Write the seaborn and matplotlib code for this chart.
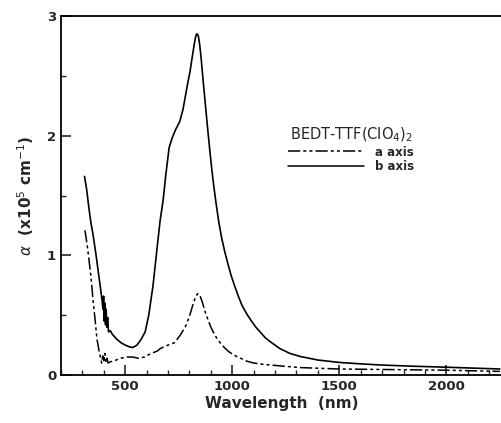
import matplotlib
matplotlib.use('Agg')
import matplotlib.pyplot as plt
from matplotlib.ticker import MultipleLocator
from matplotlib.lines import Line2D
import seaborn as sns
import pandas as pd

sns.set_theme(style='ticks')
plt.rcParams['font.family'] = ['DejaVu Sans']

# b axis (solid)
b_wl = [310, 320, 330, 340, 350, 364, 375, 385, 392, 396, 399, 402, 405, 408, 411,
        414, 418, 422, 430, 440, 460, 480, 500, 520, 536, 555, 575, 593, 610, 630,
        650, 663, 677, 690, 705, 719, 735, 755, 770, 790, 803, 815, 822, 828, 833,
        837, 842, 848, 855, 865, 875, 885, 895, 905, 915, 924, 937, 950, 965, 981,
        995, 1010, 1028, 1046, 1068, 1090, 1110, 1130, 1155, 1180, 1223, 1270, 1317,
        1400, 1500, 1600, 1700, 1850, 2000, 2250]
b_alpha = [1.66, 1.55, 1.40, 1.27, 1.17, 1.00, 0.85, 0.72, 0.62, 0.55, 0.66, 0.45, 0.60,
           0.42, 0.55, 0.40, 0.48, 0.36, 0.37, 0.34, 0.30, 0.27, 0.25, 0.235, 0.23, 0.25,
           0.30, 0.36, 0.50, 0.75, 1.08, 1.29, 1.46, 1.68, 1.90, 1.98, 2.05, 2.12, 2.22,
           2.42, 2.54, 2.68, 2.76, 2.82, 2.85, 2.85, 2.83, 2.76, 2.64, 2.44, 2.25, 2.06,
           1.88, 1.71, 1.56, 1.44, 1.28, 1.15, 1.03, 0.92, 0.83, 0.75, 0.66, 0.58, 0.51,
           0.45, 0.40, 0.36, 0.31, 0.275, 0.22, 0.18, 0.155, 0.125, 0.105, 0.093, 0.083,
           0.073, 0.065, 0.05]

# a axis (dash-dot)
a_wl = [312, 325, 340, 350, 360, 368, 380, 390, 395, 400, 405, 410, 415, 420, 430, 450,
        480, 510, 536, 560, 590, 620, 650, 663, 700, 730, 756, 780, 800, 815, 828, 838,
        848, 860, 873, 887, 900, 911, 927, 943, 960, 980, 1000, 1020, 1045, 1069, 1100,
        1150, 1230, 1317, 1500, 1750, 2000, 2250]
a_alpha = [1.21, 1.05, 0.82, 0.62, 0.45, 0.30, 0.18, 0.10, 0.16, 0.12, 0.18, 0.10, 0.14,
           0.10, 0.11, 0.12, 0.14, 0.15, 0.15, 0.14, 0.15, 0.18, 0.20, 0.22, 0.25, 0.27,
           0.33, 0.40, 0.49, 0.58, 0.65, 0.68, 0.67, 0.61, 0.53, 0.46, 0.40, 0.36, 0.31,
           0.27, 0.235, 0.20, 0.175, 0.155, 0.135, 0.115, 0.10, 0.088, 0.075, 0.062, 0.05,
           0.045, 0.04, 0.03]

df_a = pd.DataFrame({'wl': a_wl, 'alpha': a_alpha})
df_b = pd.DataFrame({'wl': b_wl, 'alpha': b_alpha})

fig = plt.figure(figsize=(5.02, 4.23), dpi=100)
ax = fig.add_axes([0.1215, 0.1135, 0.8785, 0.8485])

dash_a = (8, 2, 2, 2, 2, 2)
sns.lineplot(data=df_b, x='wl', y='alpha', ax=ax, color='black', lw=1.2, sort=False)
sns.lineplot(data=df_a, x='wl', y='alpha', ax=ax, color='black', lw=1.1, sort=False,
             dashes=False)
ax.lines[-1].set_dashes(dash_a)

ax.set_xlim(200, 2260)
ax.set_ylim(0, 3)
ax.xaxis.set_major_locator(MultipleLocator(500))
ax.xaxis.set_minor_locator(MultipleLocator(100))
ax.yaxis.set_major_locator(MultipleLocator(1))
ax.yaxis.set_minor_locator(MultipleLocator(0.5))
ax.tick_params(which='major', direction='in', length=7, width=1.2, labelsize=9.5)
ax.tick_params(which='minor', direction='in', length=3.5, width=1)
for lab in ax.get_xticklabels() + ax.get_yticklabels():
    lab.set_fontweight('bold')
for s in ['left', 'bottom', 'top']:
    ax.spines[s].set_linewidth(1.3)
    ax.spines[s].set_color('black')
ax.spines['right'].set_visible(False)

ax.set_xlabel('Wavelength  (nm)', fontsize=11, fontweight='bold', labelpad=2)
ax.set_ylabel(r'$\alpha$  (x10$^5$ cm$^{-1}$)', fontsize=11, fontweight='bold', labelpad=8)

handles = [Line2D([], [], color='black', lw=1.1, dashes=dash_a),
           Line2D([], [], color='black', lw=1.1)]
leg = ax.legend(handles, ['a axis', 'b axis'], title=r'BEDT-TTF(ClO$_4$)$_2$',
                frameon=False, loc='upper left', bbox_to_anchor=(0.49, 0.725),
                handlelength=6.5, handletextpad=0.9, labelspacing=0.15,
                prop={'size': 8.5, 'weight': 'bold'}, title_fontsize=10.5)

fig.savefig('out.png', dpi=100)
